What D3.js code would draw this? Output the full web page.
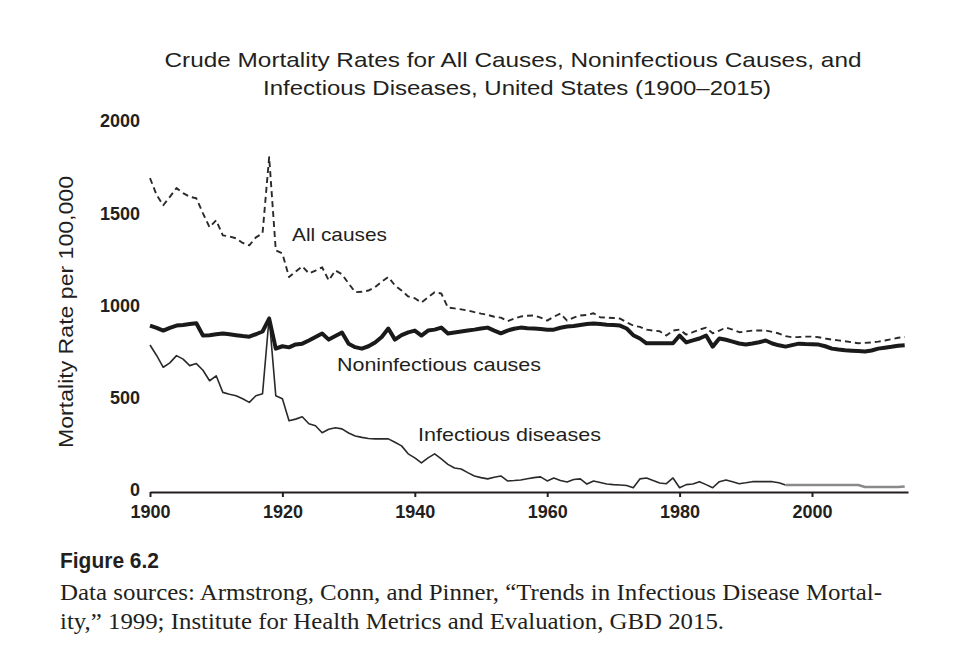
<!DOCTYPE html>
<html><head><meta charset="utf-8">
<script src="https://cdn.jsdelivr.net/npm/d3@7"></script>
<style>
html,body{margin:0;padding:0;background:#fff;}
svg{display:block;}
</style></head>
<body>
<svg id="c" width="956" height="654"></svg>
<script>
const years = d3.range(1900, 2015);
const allCauses = [
1701,1610,1554,1600,1647,1620,1600,1592,1510,1435,
1473,1391,1385,1375,1350,1337,1380,1402,1815,1310,
1293,1165,1195,1223,1185,1200,1218,1147,1201,1180,
1130,1083,1085,1092,1110,1140,1165,1120,1092,1060,
1050,1027,1055,1083,1076,1000,995,990,984,975,
967,960,950,945,926,940,951,955,957,945,
929,950,967,929,945,957,960,969,947,945,
943,940,920,902,895,880,875,871,848,875,
880,853,866,880,891,860,875,891,880,866,
870,875,875,875,868,859,845,839,840,842,
842,839,832,826,822,817,812,806,808,811,
815,821,828,836,840];
const nonInfectious = [
902,890,875,890,902,905,910,915,848,850,
855,859,855,850,845,842,855,870,940,777,
790,784,800,804,821,840,859,826,845,864,
804,785,777,790,810,840,886,826,850,865,
875,848,875,880,891,859,865,870,875,880,
886,891,875,860,875,885,891,888,886,883,
880,880,890,897,900,905,910,913,910,907,
905,902,886,850,832,806,806,806,806,806,
848,811,822,832,848,788,832,825,815,805,
799,805,812,821,805,795,788,796,804,802,
801,799,790,777,772,768,766,764,762,767,
777,782,787,793,796];
const infectious = [
797,740,676,700,739,720,685,696,660,603,
630,540,530,522,505,486,522,533,947,522,
505,386,395,408,370,359,321,340,348,342,
320,304,296,290,288,288,288,270,250,207,
185,158,185,207,179,150,130,125,105,87,
78,71,80,87,60,62,65,72,78,82,
60,76,62,54,68,71,43,60,52,43,
40,38,35,23,71,76,62,49,45,76,
23,40,43,56,40,23,56,65,55,45,
50,56,56,56,56,50,38,38,38,38,
38,38,38,38,38,38,38,38,27,27,
27,27,27,27,30];
const xTicks = [1900,1920,1940,1960,1980,2000];
const yTicks = [0,500,1000,1500,2000];
const titleLines = ["Crude Mortality Rates for All Causes, Noninfectious Causes, and","Infectious Diseases, United States (1900\u20132015)"];
const yTitle = "Mortality Rate per 100,000";
const seriesLabels = ["All causes","Noninfectious causes","Infectious diseases"];
const figLabel = "Figure 6.2";
const sourceLines = ["Data sources: Armstrong, Conn, and Pinner, \u201cTrends in Infectious Disease Mortal-","ity,\u201d 1999; Institute for Health Metrics and Evaluation, GBD 2015."];

const svg = d3.select("#c");
const ink = "#231f20";
const sans = "'Liberation Sans',Arial,sans-serif";
const x = d3.scaleLinear().domain([1900, 2014.5]).range([150, 908]);
const y = d3.scaleLinear().domain([0, 2000]).range([492, 123]);

// title
const tl = [{t:titleLines[0], cx:513, by:67, w:697},{t:titleLines[1], cx:517, by:95, w:508}];
svg.selectAll("text.title").data(tl).join("text").attr("class","title")
  .attr("x",d=>d.cx).attr("y",d=>d.by).attr("text-anchor","middle")
  .attr("font-family",sans).attr("font-size",21).attr("fill",ink)
  .attr("textLength",d=>d.w).attr("lengthAdjust","spacingAndGlyphs").text(d=>d.t);

// y axis (labels only)
const ya = svg.append("g").attr("transform","translate(150,-2)")
  .call(d3.axisLeft(y).tickValues(yTicks).tickSize(0).tickPadding(10).tickFormat(d3.format("d")));
ya.select(".domain").remove();
ya.selectAll("text").attr("font-family",sans).attr("font-size",18).attr("font-weight","bold").attr("fill",ink);

// x axis
const xa = svg.append("g").attr("transform","translate(0,492)")
  .call(d3.axisBottom(x).tickValues(xTicks).tickSize(5).tickSizeOuter(0).tickPadding(8).tickFormat(d3.format("d")));
xa.select(".domain").attr("stroke",ink).attr("stroke-width",2.2);
xa.selectAll(".tick line").attr("stroke",ink).attr("stroke-width",2);
xa.selectAll("text").attr("font-family",sans).attr("font-size",18).attr("font-weight","bold").attr("fill",ink);

// y title
svg.append("text").attr("transform","translate(73,312) rotate(-90)").attr("text-anchor","middle")
  .attr("font-family",sans).attr("font-size",20).attr("fill",ink)
  .attr("textLength",272).attr("lengthAdjust","spacingAndGlyphs").text(yTitle);

const line = arr => d3.line().x((d,i)=>x(years[i])).y(d=>y(d))(arr);
const lineSub = (arr, from, to) => d3.line().defined((d,i)=>years[i]>=from && years[i]<=to)
  .x((d,i)=>x(years[i])).y(d=>y(d))(arr);

// infectious (thin), grey tail
svg.append("path").attr("d",lineSub(infectious,1900,1996)).attr("fill","none").attr("stroke","#2a2a2a").attr("stroke-width",1.6).attr("stroke-linejoin","round");
svg.append("path").attr("d",lineSub(infectious,1996,2014)).attr("fill","none").attr("stroke","#8a8a8a").attr("stroke-width",2.4).attr("stroke-linejoin","round");
// noninfectious (thick)
svg.append("path").attr("d",line(nonInfectious)).attr("fill","none").attr("stroke","#1a1a1a").attr("stroke-width",4).attr("stroke-linejoin","round");
// all causes (dashed)
svg.append("path").attr("d",line(allCauses)).attr("fill","none").attr("stroke","#2a2a2a").attr("stroke-width",1.9).attr("stroke-dasharray","6,4").attr("stroke-linejoin","round");

// series labels
const sl = [{t:seriesLabels[0], x:292, by:241, w:95},{t:seriesLabels[1], x:337, by:371, w:204},{t:seriesLabels[2], x:418, by:441, w:183}];
svg.selectAll("text.sl").data(sl).join("text").attr("class","sl")
  .attr("x",d=>d.x).attr("y",d=>d.by).attr("font-family",sans).attr("font-size",19).attr("fill",ink)
  .attr("textLength",d=>d.w).attr("lengthAdjust","spacingAndGlyphs").text(d=>d.t);

// caption
svg.append("text").attr("x",60).attr("y",568).attr("font-family",sans).attr("font-size",22).attr("font-weight","bold").attr("fill",ink)
  .attr("textLength",99).attr("lengthAdjust","spacingAndGlyphs").text(figLabel);
const src = [{t:sourceLines[0], by:600, w:822}, {t:sourceLines[1], by:629, w:664}];
svg.selectAll("text.src").data(src).join("text").attr("class","src")
  .attr("x",60).attr("y",d=>d.by).attr("font-family","'Liberation Serif','Times New Roman',serif").attr("font-size",23).attr("fill",ink)
  .attr("textLength",d=>d.w).attr("lengthAdjust","spacingAndGlyphs").text(d=>d.t);
</script>
</body></html>
